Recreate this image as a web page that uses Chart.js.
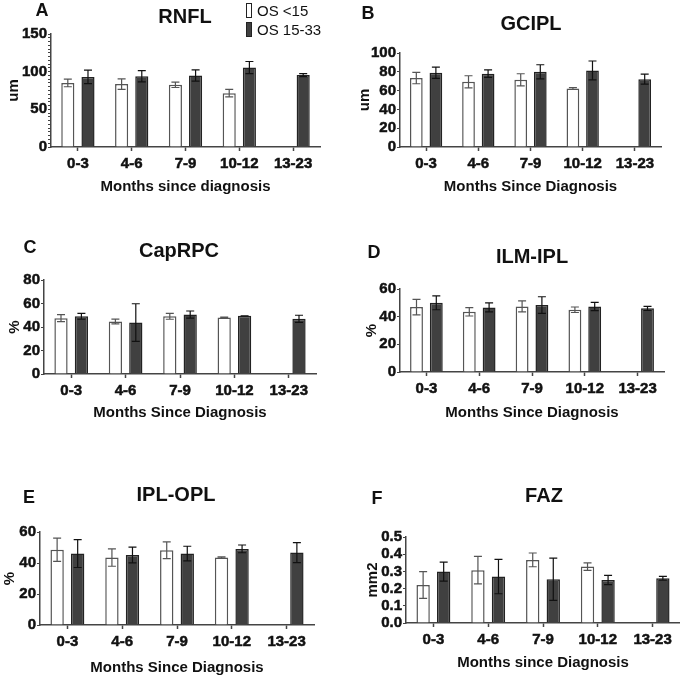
<!DOCTYPE html>
<html>
<head>
<meta charset="utf-8">
<script src="https://cdn.jsdelivr.net/npm/chart.js@4.4.1/dist/chart.umd.min.js"></script>
<style>
  body { margin: 0; background: #fff; }
  #wrap { position: relative; width: 680px; height: 679px; font-family: "Liberation Sans", Arial, sans-serif; color: #111; overflow: hidden; }
  canvas { position: absolute; }
  .lbl { position: absolute; font-weight: bold; line-height: 1; transform: translate(-50%, -50%); white-space: nowrap; }
  .letter { font-size: 18px; }
  .title { font-size: 20px; }
  .legend { position: absolute; left: 246px; font-size: 15px; line-height: 1; white-space: nowrap; }
  .legend .box { position: absolute; left: 0; width: 4px; height: 13px; border: 1px solid #222; }
  .legend .txt { position: absolute; left: 11px; top: 0; }
</style>
</head>
<body>
<div id="wrap"></div>
<script>
const categories = ["0-3", "4-6", "7-9", "10-12", "13-23"];
const seriesNames = ["OS <15", "OS 15-33"];

const rnflLow = [85, 83.5, 82.5, 71.5, null];
const rnflLowErr = [5, 7, 3.5, 5, null];
const rnflHigh = [93, 94, 95, 105.5, 95.5];
const rnflHighErr = [9, 7.5, 7.5, 8, 2];

const gciplLow = [73.3, 69.4, 71.5, 62.3, null];
const gciplLowErr = [6, 6.4, 6.4, 1, null];
const gciplHigh = [79, 78, 80, 81.5, 72.2];
const gciplHighErr = [6, 4, 7.5, 10, 5.4];

const capLow = [47.5, 44.7, 49.1, 48.1, null];
const capLowErr = [3, 2, 2.5, 0.3, null];
const capHigh = [49.1, 43.8, 50.6, 49.5, 47];
const capHighErr = [2.5, 16, 3, 0, 3];

const ilmLow = [46.9, 43.5, 47.4, 45, null];
const ilmLowErr = [5.6, 3, 4, 2, null];
const ilmHigh = [50, 46.7, 48.4, 47.4, 46];
const ilmHighErr = [5, 3.2, 6, 3, 1.5];

const iplLow = [48.6, 43.5, 48.2, 43.5, null];
const iplLowErr = [7.5, 5.6, 5.4, 0.5, null];
const iplHigh = [46.1, 45.2, 46.1, 49.1, 46.7];
const iplHighErr = [9, 5.1, 4.7, 2.5, 6.4];

const fazLow = [0.221, 0.307, 0.367, 0.328, null];
const fazLowErr = [0.078, 0.08, 0.04, 0.022, null];
const fazHigh = [0.299, 0.27, 0.254, 0.25, 0.26];
const fazHighErr = [0.055, 0.1, 0.123, 0.027, 0.011];

// panel layout: canvas box + where the plot area sits (page px)
const panels = [
  { letter: "A", name: "RNFL", x: 0, y: 0, w: 340, h: 200, left: 51, right: 320, top: 34, bottom: 147,
    letterPos: [42, 10], titlePos: [185, 16], yTitle: "um", yPad: 5, xTitle: "Months since diagnosis", xPad: 4,
    max: 150, step: 5, labelEvery: 50, low: rnflLow, lowErr: rnflLowErr, high: rnflHigh, highErr: rnflHighErr },
  { letter: "B", name: "GCIPL", x: 340, y: 0, w: 340, h: 200, left: 400, right: 661, top: 53, bottom: 147,
    letterPos: [368, 13], titlePos: [531, 23], yTitle: "um", yPad: 16, xTitle: "Months Since Diagnosis", xPad: 4.5,
    max: 100, step: 20, low: gciplLow, lowErr: gciplLowErr, high: gciplHigh, highErr: gciplHighErr },
  { letter: "C", name: "CapRPC", x: 0, y: 200, w: 340, h: 240, left: 44, right: 316, top: 280, bottom: 374,
    letterPos: [30, 247], titlePos: [179, 250], yTitle: "%", yPad: 6, xTitle: "Months Since Diagnosis", xPad: 18,
    max: 80, step: 20, low: capLow, lowErr: capLowErr, high: capHigh, highErr: capHighErr },
  { letter: "D", name: "ILM-IPL", x: 340, y: 200, w: 340, h: 240, left: 400, right: 664, top: 289, bottom: 372,
    letterPos: [374, 252], titlePos: [532, 256], yTitle: "%", yPad: 23, xTitle: "Months Since Diagnosis", xPad: 18,
    max: 60, step: 20, low: ilmLow, lowErr: ilmLowErr, high: ilmHigh, highErr: ilmHighErr },
  { letter: "E", name: "IPL-OPL", x: 0, y: 440, w: 340, h: 239, left: 40, right: 314, top: 532, bottom: 625,
    letterPos: [29, 497], titlePos: [176, 494], yTitle: "%", yPad: 1, xTitle: "Months Since Diagnosis", xPad: 2,
    max: 60, step: 20, low: iplLow, lowErr: iplLowErr, high: iplHigh, highErr: iplHighErr },
  { letter: "F", name: "FAZ", x: 340, y: 440, w: 340, h: 239, left: 406, right: 680, top: 537, bottom: 623,
    letterPos: [377, 498], titlePos: [544, 495], yTitle: "mm2", yPad: 24, xTitle: "Months since Diagnosis", xPad: 7,
    max: 0.5, step: 0.1, decimals: 1, low: fazLow, lowErr: fazLowErr, high: fazHigh, highErr: fazHighErr }
];

const font = "'Liberation Sans', Arial, sans-serif";
const axisColor = "#444";

const errorBars = {
  id: "errorBars",
  afterDatasetsDraw(chart) {
    const { ctx } = chart;
    const y = chart.scales.y;
    chart.data.datasets.forEach((ds, i) => {
      chart.getDatasetMeta(i).data.forEach((bar, j) => {
        const v = ds.data[j], e = ds.errors[j];
        if (v == null || e == null) return;
        const top = y.getPixelForValue(v + e);
        const bot = y.getPixelForValue(v - e);
        ctx.save();
        ctx.strokeStyle = ds.errorColor;
        ctx.lineWidth = 1.2;
        ctx.beginPath();
        ctx.moveTo(bar.x, top); ctx.lineTo(bar.x, bot);
        ctx.moveTo(bar.x - 4, top); ctx.lineTo(bar.x + 4, top);
        ctx.moveTo(bar.x - 4, bot); ctx.lineTo(bar.x + 4, bot);
        ctx.stroke();
        ctx.restore();
      });
    });
  }
};

const wrap = document.getElementById("wrap");

const addLabel = (text, pos, cls) => {
  const d = document.createElement("div");
  d.className = "lbl " + cls;
  d.textContent = text;
  d.style.left = pos[0] + "px";
  d.style.top = pos[1] + "px";
  wrap.appendChild(d);
};

panels.forEach(p => {
  const canvas = document.createElement("canvas");
  canvas.width = p.w;
  canvas.height = p.h;
  canvas.style.left = p.x + "px";
  canvas.style.top = p.y + "px";
  wrap.appendChild(canvas);

  new Chart(canvas, {
    type: "bar",
    data: {
      labels: categories,
      datasets: [
        { label: seriesNames[0], data: p.low, errors: p.lowErr, errorColor: "#555",
          backgroundColor: "#fff", borderColor: "#555", borderWidth: 1.5 },
        { label: seriesNames[1], data: p.high, errors: p.highErr, errorColor: "#111",
          backgroundColor: "#404040", borderColor: "#222", borderWidth: 1.5 }
      ]
    },
    options: {
      responsive: false,
      animation: false,
      events: [],
      categoryPercentage: 0.75,
      barPercentage: 0.65,
      layout: { padding: { left: 0, top: p.top - p.y, right: p.x + p.w - p.right, bottom: 0 } },
      plugins: { legend: { display: false }, tooltip: { enabled: false } },
      scales: {
        x: {
          afterFit: s => { s.height = p.y + p.h - p.bottom; },
          grid: { drawOnChartArea: false, offset: false, tickLength: 4, tickColor: axisColor, tickWidth: 1.5 },
          border: { color: axisColor, width: 1.5 },
          ticks: { color: "#111", padding: 4, maxRotation: 0, textStrokeColor: "#111", textStrokeWidth: 0.5,
            font: { family: font, size: 15, weight: "bold" } },
          title: { display: true, text: p.xTitle, color: "#111", padding: { top: 0, bottom: p.xPad },
            font: { family: font, size: 15, weight: "bold" } }
        },
        y: {
          min: 0,
          max: p.max,
          afterFit: s => { s.width = p.left - p.x; },
          grid: { drawOnChartArea: false, tickLength: 3, tickColor: axisColor, tickWidth: 1.2 },
          border: { color: axisColor, width: 1.5 },
          ticks: {
            stepSize: p.step,
            maxTicksLimit: 100,
            autoSkip: false,
            padding: 1,
            color: "#111",
            textStrokeColor: "#111",
            textStrokeWidth: 0.5,
            font: { family: font, size: 15, weight: "bold" },
            callback: v => {
              if (p.labelEvery) return Math.round(v) % p.labelEvery === 0 ? v : "";
              return p.decimals ? v.toFixed(p.decimals) : v;
            }
          },
          title: { display: true, text: p.yTitle, color: "#111", padding: { top: p.yPad, bottom: 0 },
            font: { family: font, size: 15, weight: "bold" } }
        }
      }
    },
    plugins: [errorBars]
  });

  addLabel(p.letter, p.letterPos, "letter");
  addLabel(p.name, p.titlePos, "title");
});

// legend for panel A
const legend = document.createElement("div");
legend.className = "legend";
legend.style.top = "3px";
legend.innerHTML =
  `<div style="position:absolute;top:0"><span class="box" style="background:#fff"></span><span class="txt">${seriesNames[0]}</span></div>` +
  `<div style="position:absolute;top:19px"><span class="box" style="background:#404040"></span><span class="txt">${seriesNames[1]}</span></div>`;
wrap.appendChild(legend);
</script>
</body>
</html>
